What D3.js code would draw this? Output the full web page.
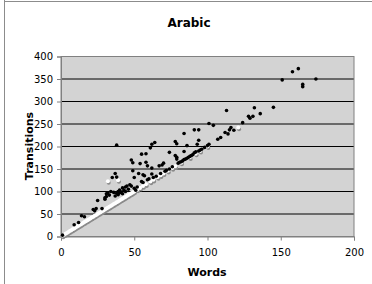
<!DOCTYPE html>
<html><head><meta charset="utf-8">
<script src="https://cdn.jsdelivr.net/npm/d3@7"></script>
<style>html,body{margin:0;padding:0;background:#fff;}svg{display:block;font-family:"DejaVu Sans",Verdana,sans-serif;}</style>
</head><body>
<svg id="c" width="372" height="284"></svg>
<script>
const title = "Arabic";
const xLabel = "Words";
const yLabel = "Transitions";
const xTicks = [0, 50, 100, 150, 200];
const yTicks = [0, 50, 100, 150, 200, 250, 300, 350, 400];

// black series: [words, transitions]
const blackPoints = [[1,3],[9,26],[12,31],[14,46],[16,44],[22,60],[23,57],[24,62],[25,80],[28,62],[30,83],[30,86],[31,89],[31,95],[32,97],[33,92],[34,100],[35,131],[36,98],[37,140],[38,132],[38,203],[37,90],[38,96],[39,100],[39,93],[40,103],[40,97],[41,99],[42,108],[42,95],[43,103],[44,110],[44,100],[45,112],[46,105],[47,115],[48,170],[49,164],[49,146],[50,131],[50,107],[48,112],[51,103],[52,110],[53,140],[54,162],[55,183],[55,122],[56,137],[56,120],[57,135],[58,184],[58,165],[59,157],[59,126],[60,128],[61,197],[62,205],[64,209],[62,152],[62,139],[63,131],[65,134],[67,157],[68,140],[69,159],[70,163],[71,145],[72,147],[74,187],[74,150],[76,155],[78,211],[79,206],[78,180],[79,176],[79,172],[80,163],[81,165],[82,166],[83,168],[84,229],[84,189],[84,171],[85,172],[86,202],[86,174],[87,176],[88,178],[89,180],[90,182],[91,237],[91,186],[92,188],[93,205],[94,237],[94,214],[94,190],[95,192],[96,194],[98,198],[100,202],[101,205],[101,251],[104,247],[107,216],[109,220],[112,231],[113,280],[114,228],[115,237],[116,242],[118,236],[124,253],[128,267],[129,263],[131,267],[132,286],[136,273],[145,287],[151,348],[158,366],[162,373],[165,338],[165,333],[174,350]];

// white series: [words, transitions]
const whitePoints = [[1,2],[2,4],[3,6],[4,8],[5,10],[6,12],[7,14],[8,16],[9,18],[10,20],[11,22],[12,24],[13,26],[14,28],[15,30],[16,32],[17,34],[18,36],[19,38],[20,40],[21,42],[22,44],[23,46],[24,48],[25,50],[26,52],[27,54],[28,56],[29,58],[30,60],[31,62],[32,64],[33,66],[34,68],[35,70],[36,72],[37,74],[38,76],[39,78],[40,80],[41,82],[42,84],[43,86],[44,88],[45,90],[46,92],[47,94],[48,96],[49,98],[50,100],[52,104],[54,108],[56,112],[58,116],[61,122],[63,126],[66,132],[68,136],[70,140],[73,146],[76,152],[78,156],[82,164],[88,176],[92,184],[95,190],[100,200],[121,242],[32,123],[39,125]];

const svg = d3.select("#c");
const L = 61, R = 354, T = 56.5, B = 236.5;
const x = d3.scaleLinear().domain([0, 200]).range([L, R]);
const y = d3.scaleLinear().domain([0, 400]).range([B, T]);

// outer frame (left & top visible)
svg.append("line").attr("x1",4.5).attr("x2",4.5).attr("y1",0).attr("y2",284).attr("stroke","#8c8c8c");
svg.append("line").attr("x1",4.5).attr("x2",372).attr("y1",1.5).attr("y2",1.5).attr("stroke","#8c8c8c");

// plot background
svg.append("rect").attr("x",L).attr("y",T).attr("width",R-L).attr("height",B-T).attr("fill","#d3d3d3");

// gridlines
svg.append("g").selectAll("line").data(yTicks.filter(d => d > 0 && d < 400)).join("line")
  .attr("x1",L).attr("x2",R).attr("y1",d=>y(d)).attr("y2",d=>y(d)).attr("stroke","#000").attr("stroke-width",1);

// plot border
svg.append("rect").attr("x",L).attr("y",T).attr("width",R-L).attr("height",B-T)
  .attr("fill","none").attr("stroke","#808080").attr("stroke-width",1);

// axes
const yAxis = d3.axisLeft(y).tickValues(yTicks).tickSize(4).tickPadding(4).tickFormat(d3.format("d"));
const gy = svg.append("g").attr("transform",`translate(${L},0)`).call(yAxis);
const xAxis = d3.axisBottom(x).tickValues(xTicks).tickSize(4).tickPadding(8).tickFormat(d3.format("d"));
const gx = svg.append("g").attr("transform",`translate(0,${B})`).call(xAxis);
[gx, gy].forEach(g => {
  g.select(".domain").attr("stroke","#808080");
  g.selectAll(".tick line").attr("stroke","#808080");
  g.selectAll("text").attr("fill","#000").style("font-size","10px").style("font-family","'DejaVu Sans',Verdana,sans-serif");
});

// white series with gray shadow
const gw = svg.append("g");
gw.selectAll("circle.sh").data(whitePoints).join("circle").attr("class","sh")
  .attr("cx",d=>x(d[0])+0.8).attr("cy",d=>y(d[1])+1.6).attr("r",2).attr("fill","#8a8a8a");
gw.selectAll("circle.w").data(whitePoints).join("circle").attr("class","w")
  .attr("cx",d=>x(d[0])).attr("cy",d=>y(d[1])).attr("r",2).attr("fill","#fff");

// black series
svg.append("g").selectAll("circle").data(blackPoints).join("circle")
  .attr("cx",d=>x(d[0])).attr("cy",d=>y(d[1])).attr("r",1.8).attr("fill","#000");

// titles
svg.append("text").attr("x",189).attr("y",26.5).attr("text-anchor","middle")
  .style("font-size","12px").style("font-weight","bold").text(title);
svg.append("text").attr("x",207).attr("y",276).attr("text-anchor","middle")
  .style("font-size","11px").style("font-weight","bold").text(xLabel);
svg.append("text").attr("transform","translate(33,146) rotate(-90)").attr("text-anchor","middle")
  .style("font-size","11px").style("font-weight","bold").text(yLabel);
</script>
</body></html>
